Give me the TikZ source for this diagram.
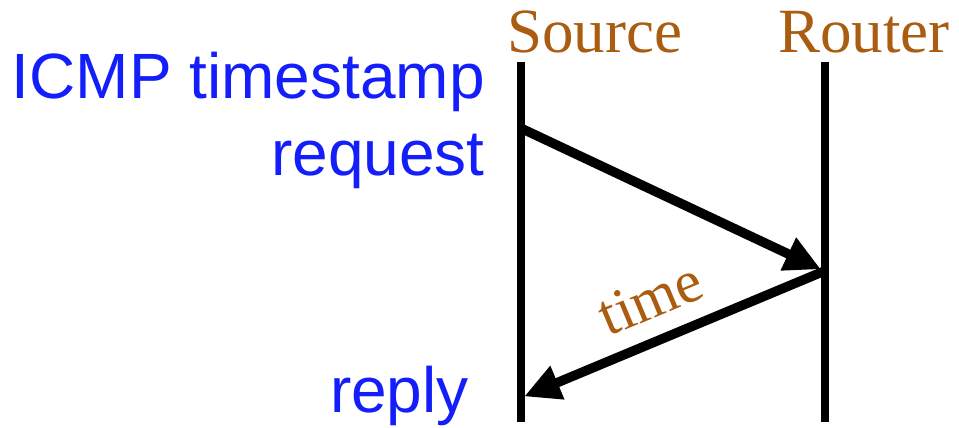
\documentclass[tikz,border=0pt]{standalone}
\usepackage{fontspec}
\setmainfont{Liberation Serif}
\setsansfont{Liberation Sans}
\usetikzlibrary{arrows.meta}
\definecolor{actorbrown}{RGB}{170,92,16}
\definecolor{noteblue}{RGB}{20,30,250}

\begin{document}
\begin{tikzpicture}[x=1pt, y=-1pt,
  lifeline/.style={line width=8pt},
  msg/.style={line width=9.5pt, shorten >=4pt, -{Triangle[length=36pt, width=34pt]}},
  actor/.style={font=\fontsize{63}{63}\selectfont, text=actorbrown, inner sep=0pt, anchor=base west},
  note/.style={font=\sffamily\fontsize{64}{64}\selectfont, text=noteblue, inner sep=0pt, anchor=base east}]

\useasboundingbox (0,0) rectangle (959,428);

% === ACTORS ===
\node[actor] (source) at (507,53) {Source};
\node[actor] (router) at (778,53) {Router};

% === LIFELINES ===
\coordinate (srctop) at (520.5,62);
\coordinate (srcbot) at (520.5,422);
\coordinate (rtrtop) at (824.5,62);
\coordinate (rtrbot) at (824.5,422);
\draw[lifeline] (srctop) -- (srcbot);
\draw[lifeline] (rtrtop) -- (rtrbot);

% === MESSAGES ===
\coordinate (reqout) at (520.5,128);
\coordinate (reqin) at (824.5,271);
\coordinate (repin) at (520.5,398);
\draw[msg] (reqout) -- (reqin);
\draw[msg] (reqin) -- node[pos=0.52, sloped, above=17pt, font=\fontsize{60}{60}\selectfont, text=actorbrown, inner sep=0pt] (time) {time} (repin);

% === NOTES ===
\node[note] (icmp) at (485,99) {ICMP timestamp};
\node[note] (request) at (485,175) {request};
\node[note] (reply) at (469,412) {reply};

\end{tikzpicture}
\end{document}
